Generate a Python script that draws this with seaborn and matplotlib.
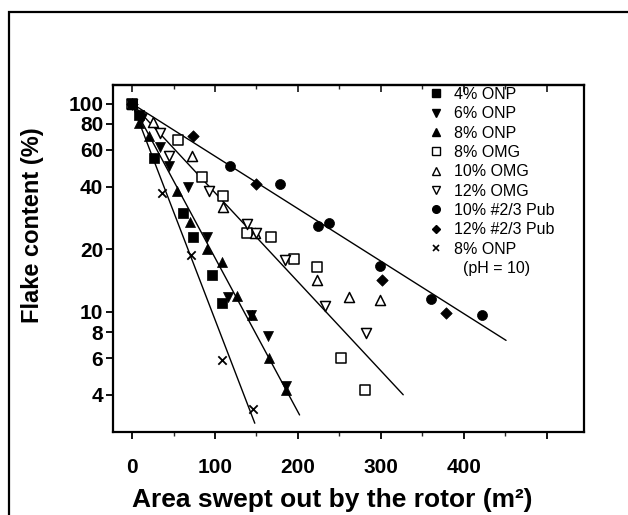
import matplotlib
matplotlib.use("Agg")
import numpy as np
import pandas as pd
import seaborn as sns
import matplotlib.pyplot as plt
from matplotlib.patches import Rectangle
from matplotlib.lines import Line2D
from matplotlib.ticker import FixedLocator, FixedFormatter, NullLocator, NullFormatter

# ---------------- data ----------------
onp4_x = [0, 8, 26, 62, 74, 96, 108]
onp4_y = [100, 88, 55, 30, 23, 15, 11]

onp6_x = [0, 12, 34, 44, 68, 90, 116, 144, 164, 186]
onp6_y = [100, 85, 62, 50, 40, 23, 11.8, 9.7, 7.7, 4.4]

onp8_x = [0, 8, 20, 54, 70, 90, 109, 127, 145, 165, 186]
onp8_y = [100, 81, 70, 38, 27, 20, 17.4, 11.9, 9.7, 6.0, 4.2]

omg8_x = [0, 55, 84, 110, 138, 167, 195, 223, 252, 281]
omg8_y = [100, 67, 44.5, 36, 24, 23, 18, 16.5, 6.0, 4.2]

omg10_x = [0, 25, 72, 110, 148, 223, 261, 299]
omg10_y = [100, 82, 56, 32, 24, 14.3, 11.8, 11.4]

omg12_x = [0, 34, 44, 93, 138, 150, 185, 233, 282]
omg12_y = [100, 72, 56, 38, 26.5, 24, 17.8, 10.7, 7.9]

pub10_x = [0, 118, 178, 224, 238, 299, 360, 422]
pub10_y = [100, 50, 41, 26, 26.8, 16.6, 11.5, 9.7]

pub12_x = [0, 74, 150, 302, 378]
pub12_y = [100, 70, 41, 14.3, 9.9]

ph10_x = [0, 36, 71, 109, 146]
ph10_y = [100, 37.3, 18.7, 5.9, 3.4]

# fitted lines: common start, individual ends
fit_start_x = 0
fit_start_y = 100
fit_end_x = [148, 202, 327, 451]
fit_end_y = [2.92, 3.2, 4.0, 7.3]

series_labels = ["4% ONP", "6% ONP", "8% ONP", "8% OMG", "10% OMG",
                 "12% OMG", "10% #2/3 Pub", "12% #2/3 Pub", "8% ONP"]
extra_label = "  (pH = 10)"

x_ticks = [0, 100, 200, 300, 400, 500]
x_ticklabels = ["0", "100", "200", "300", "400", ""]
x_minor = [50, 150, 250, 350, 450]
y_ticks = [4, 6, 8, 10, 20, 40, 60, 80, 100]
y_ticklabels = ["4", "6", "8", "10", "20", "40", "60", "80", "100"]

xlabel = "Area swept out by the rotor (m²)"
ylabel = "Flake content (%)"

# ---------------- styling ----------------
sns.set_theme(style="white")
plt.rcParams["font.family"] = ["Liberation Sans", "DejaVu Sans"]

W, H = 628, 515
fig = plt.figure(figsize=(W / 100, H / 100), dpi=100)
ax_l, ax_r, ax_t, ax_b = 113, 584, 85, 432
ax = fig.add_axes([ax_l / W, 1 - ax_b / H, (ax_r - ax_l) / W, (ax_b - ax_t) / H])

series = [
    (onp4_x, onp4_y, "s", True),
    (onp6_x, onp6_y, "v", True),
    (onp8_x, onp8_y, "^", True),
    (omg8_x, omg8_y, "s", False),
    (omg10_x, omg10_y, "^", False),
    (omg12_x, omg12_y, "v", False),
    (pub10_x, pub10_y, "o", True),
    (pub12_x, pub12_y, "D", True),
    (ph10_x, ph10_y, "x", True),
]

# fitted lines
for ex, ey in zip(fit_end_x, fit_end_y):
    df_line = pd.DataFrame({"x": [fit_start_x, ex], "y": [fit_start_y, ey]})
    sns.lineplot(data=df_line, x="x", y="y", color="black", linewidth=1.0,
                 ax=ax, zorder=2)

handles = []
for (xs, ys, mk, filled), lab in zip(series, series_labels):
    df = pd.DataFrame({"x": xs, "y": ys})
    size = 46 if mk == "s" else (34 if mk == "D" else 52)
    if mk == "x":
        sns.scatterplot(data=df, x="x", y="y", marker="x", s=36, color="black",
                        linewidth=1.3, ax=ax, zorder=3)
    elif filled:
        sns.scatterplot(data=df, x="x", y="y", marker=mk, s=size, color="black",
                        edgecolor="black", linewidth=0.5, ax=ax, zorder=3)
    else:
        sns.scatterplot(data=df, x="x", y="y", marker=mk, s=size, color="black",
                        facecolor="white", edgecolor="black", linewidth=1.1,
                        ax=ax, zorder=3)
    ms = 5.5 if mk != "D" else 4.5
    if mk == "x":
        h = Line2D([], [], linestyle="none", marker="x", color="black",
                   markersize=5, markeredgewidth=1.2)
    elif filled:
        h = Line2D([], [], linestyle="none", marker=mk, color="black",
                   markersize=ms, markerfacecolor="black", markeredgecolor="black")
    else:
        h = Line2D([], [], linestyle="none", marker=mk, color="black",
                   markersize=ms, markerfacecolor="white", markeredgecolor="black",
                   markeredgewidth=1.0)
    handles.append(h)

handles.append(Line2D([], [], linestyle="none", marker=None))
labels = series_labels + [extra_label]

ax.set_yscale("log")
ax.set_xlim(-23, 545)
ax.set_ylim(2.65, 123)

ax.xaxis.set_major_locator(FixedLocator(x_ticks))
ax.xaxis.set_major_formatter(FixedFormatter(x_ticklabels))
ax.xaxis.set_minor_locator(FixedLocator(x_minor))
ax.xaxis.set_minor_formatter(NullFormatter())
ax.yaxis.set_major_locator(FixedLocator(y_ticks))
ax.yaxis.set_major_formatter(FixedFormatter(y_ticklabels))
ax.yaxis.set_minor_locator(NullLocator())
ax.yaxis.set_minor_formatter(NullFormatter())

ax.tick_params(axis="x", which="major", direction="out", length=5, width=1.3,
               labelsize=15, pad=14, colors="black", bottom=True)
ax.tick_params(axis="x", which="minor", direction="out", length=3, width=1.0,
               bottom=True)
ax.tick_params(axis="y", which="major", direction="out", length=5, width=1.3,
               labelsize=15, pad=2, colors="black", left=True)
for lab in ax.get_xticklabels() + ax.get_yticklabels():
    lab.set_fontweight("bold")

sec = ax.secondary_xaxis("top")
sec.xaxis.set_major_locator(FixedLocator(x_ticks))
sec.xaxis.set_minor_locator(FixedLocator(x_minor))
sec.xaxis.set_major_formatter(NullFormatter())
sec.xaxis.set_minor_formatter(NullFormatter())
sec.tick_params(which="major", direction="in", length=5, width=1.3)
sec.tick_params(which="minor", direction="in", length=3, width=1.0)
sec.spines["top"].set_linewidth(1.6)

for sp in ax.spines.values():
    sp.set_visible(True)
    sp.set_color("black")
    sp.set_linewidth(1.6)

ax.set_xlabel(xlabel, fontsize=19, fontweight="bold", color="black")
ax.xaxis.set_label_coords(0.465, -0.161)
ax.set_ylabel(ylabel, fontsize=17, fontweight="bold", color="black")
ax.yaxis.set_label_coords(-0.146, 0.597)

leg = ax.legend(handles, labels, loc="upper left",
                bbox_to_anchor=(430 / W, 1 - 87 / H),
                bbox_transform=fig.transFigure, frameon=False,
                fontsize=11.5, handlelength=0.8, handletextpad=0.7,
                labelspacing=0.27, borderpad=0, borderaxespad=0)
for t in leg.get_texts():
    t.set_color("black")

# outer frame
fig.patches.append(Rectangle((9 / W, -0.2), 1.5, 0.2 + 1 - 12 / H,
                             transform=fig.transFigure, fill=False,
                             edgecolor="black", linewidth=1.6))

fig.savefig("out.png", dpi=100, facecolor="white")
